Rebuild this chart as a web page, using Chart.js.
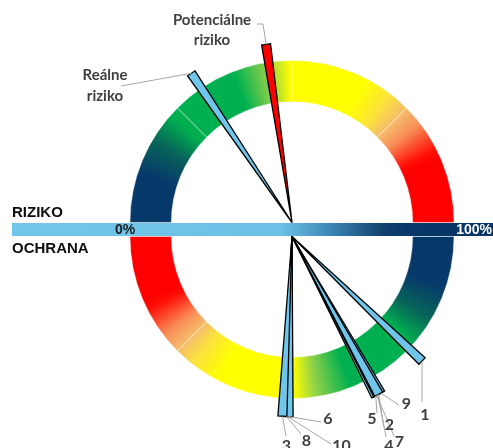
<!DOCTYPE html>
<html>
<head>
<meta charset="utf-8">
<script src="https://cdn.jsdelivr.net/npm/chart.js@4/dist/chart.umd.min.js"></script>
<style>
  html, body { margin: 0; padding: 0; background: #fff; }
  #wrap { position: relative; width: 493px; height: 448px; overflow: hidden; }
  #wrap canvas { position: absolute; }
</style>
</head>
<body>
<div id="wrap">
  <canvas id="ringTop" width="326" height="163" style="left:129px;top:60px;width:326px;height:163px"></canvas>
  <canvas id="ringBottom" width="326" height="163" style="left:129px;top:236px;width:326px;height:163px"></canvas>
  <canvas id="scaleBar" width="481" height="13" style="left:12px;top:223px;width:481px;height:13px"></canvas>
  <canvas id="needles" width="493" height="448" style="left:0;top:0;width:493px;height:448px"></canvas>
</div>
<script>
// ---- data -------------------------------------------------------------
// each half of the gauge ring is split into four equal bands
const bandLabels = ['0–25 %', '25–50 %', '50–75 %', '75–100 %'];
const bandShare = [25, 25, 25, 25];

// scale bar between the two halves
const scaleTicks = ['0%', '100%'];
const scaleMax = [100];
const sideTitles = ['RIZIKO', 'OCHRANA'];

// upper half: risk needles, percent of the 0–100 % scale
const riskNames = ['Reálne riziko', 'Potenciálne riziko'];
const riskValues = [31.1, 45.4];

// lower half: protection needles, percent of the 0–100 % scale
const protectionNames = ['1', '2', '3', '4', '5', '6', '7', '8', '9', '10'];
const protectionValues = [75.7, 66.0, 48.3, 65.8, 65.4, 49.4, 65.6, 49.0, 66.4, 49.2];

// ---- layout & style ---------------------------------------------------
const CENTER_X = 292;
const TOP_CY = 222.5;
const BOT_CY = 236.5;
const NEEDLE_LEN = 180;
const NEEDLE_TIP = 9;
const LABEL_GREY = '#404040';
const LEADER_GREY = '#a6a6a6';
const riskColors = ['#6fc5ea', '#ff0000'];
const protectionColor = '#6fc5ea';

// colour along a half ring, 0 = left end of the upper half
const ringStops = [
  [0.00, '#06386a'], [0.10, '#07396a'], [0.17, '#076459'], [0.23, '#00ad50'],
  [0.25, '#00b050'], [0.38, '#00b050'], [0.45, '#8fd14a'], [0.49, '#f0f70c'],
  [0.50, '#ffff00'], [0.65, '#ffff00'], [0.71, '#fbe23c'], [0.75, '#f5bd6a'],
  [0.79, '#f88f58'], [0.85, '#ff1008'], [0.87, '#ff0000'], [1.00, '#ff0000']
];

// label text lines, baselines and leader bends (page pixels)
const riskLabelLayout = [
  { x: 105, lines: ['Reálne', 'riziko'], base: [80, 101], leader: [[121, 86]] },
  { x: 212, lines: ['Potenciálne', 'riziko'], base: [25, 45], leader: [[263, 24], [257, 24]] }
];
const protectionLabelLayout = [
  { x: 425,   base: 419.5, leader: [[422, 402]] },   // 1
  { x: 389.5, base: 430,   leader: [[384, 427]] },   // 2
  { x: 286.5, base: 450.5, leader: [[286, 436]] },   // 3
  { x: 389,   base: 450.5, leader: [[386, 437]] },   // 4
  { x: 372,   base: 424,   leader: [[377, 413]] },   // 5
  { x: 328,   base: 424,   leader: [[321, 422]] },   // 6
  { x: 399.5, base: 446.5, leader: [[394, 436]] },   // 7
  { x: 306.5, base: 445.5, leader: [[301, 434]] },   // 8
  { x: 406.5, base: 408.5, leader: [[399, 405]] },   // 9
  { x: 341.5, base: 450.5, leader: [[331, 444]] }    // 10
];

// ---- gauge ring halves ------------------------------------------------
function ringGradient(chart, startAngle, upper) {
  const a = chart.chartArea;
  if (!a) return '#cccccc';
  const cy = upper ? a.bottom - 0.5 : a.top + 0.5;
  const g = chart.ctx.createConicGradient(startAngle, (a.left + a.right) / 2, cy);
  ringStops.forEach(([f, c]) => g.addColorStop(f / 2, c));
  return g;
}

function makeRing(id, upper) {
  return new Chart(document.getElementById(id), {
    type: 'doughnut',
    data: {
      labels: upper ? bandLabels : bandLabels.slice().reverse(),
      datasets: [{
        data: bandShare,
        backgroundColor: (c) => ringGradient(c.chart, upper ? -Math.PI : 0, upper),
        borderColor: 'rgba(255,255,255,0.4)',
        borderWidth: 1
      }]
    },
    options: {
      responsive: false,
      animation: false,
      events: [],
      rotation: upper ? -90 : 90,
      circumference: 180,
      cutout: '74.5%',
      layout: { padding: 0 },
      plugins: { legend: { display: false }, tooltip: { enabled: false } }
    }
  });
}
makeRing('ringTop', true);
makeRing('ringBottom', false);

// ---- scale bar --------------------------------------------------------
const scaleBarText = {
  id: 'scaleBarText',
  afterDatasetsDraw(chart) {
    const { ctx, chartArea: a } = chart;
    const cy = (a.top + a.bottom) / 2 + 0.5;
    ctx.save();
    ctx.font = 'bold 14px "Liberation Sans", Arial, sans-serif';
    ctx.textBaseline = 'middle';
    ctx.textAlign = 'center';
    ctx.fillStyle = '#1a1a1a';
    ctx.fillText(scaleTicks[0], 125 - 12, cy);
    ctx.textAlign = 'right';
    ctx.fillStyle = '#ffffff';
    ctx.fillText(scaleTicks[1], a.right - 1, cy);
    ctx.restore();
  }
};

new Chart(document.getElementById('scaleBar'), {
  type: 'bar',
  data: {
    labels: ['škála'],
    datasets: [{
      data: scaleMax,
      barPercentage: 1,
      categoryPercentage: 1,
      borderWidth: 0,
      backgroundColor: (c) => {
        const a = c.chart.chartArea;
        if (!a) return '#6fc5ea';
        const g = c.chart.ctx.createLinearGradient(a.left, 0, a.right, 0);
        g.addColorStop(0.00, '#72c6ea');
        g.addColorStop(0.56, '#6cc1e6');
        g.addColorStop(0.66, '#3d88b6');
        g.addColorStop(0.77, '#12426e');
        g.addColorStop(0.82, '#08386a');
        g.addColorStop(1.00, '#063565');
        return g;
      }
    }]
  },
  options: {
    indexAxis: 'y',
    responsive: false,
    animation: false,
    events: [],
    layout: { padding: 0 },
    scales: {
      x: { min: 0, max: 100, display: false },
      y: { display: false }
    },
    plugins: { legend: { display: false }, tooltip: { enabled: false } }
  },
  plugins: [scaleBarText]
});

// ---- needles ----------------------------------------------------------
// wedge from the gauge centre to a flat tip; dir -1 = upper half, +1 = lower half
function needle(value, cy, dir) {
  const phi = Math.PI * (1 - value / 100);
  const ux = Math.cos(phi), uy = dir * Math.sin(phi);
  const tx = CENTER_X + NEEDLE_LEN * ux, ty = cy + NEEDLE_LEN * uy;
  const px = -uy, py = ux, h = NEEDLE_TIP / 2;
  return {
    pts: [
      { x: CENTER_X, y: cy },
      { x: tx + px * h, y: ty + py * h },
      { x: tx - px * h, y: ty - py * h },
      { x: CENTER_X, y: cy }
    ],
    tip: { x: tx, y: ty }
  };
}

const riskNeedles = riskValues.map(v => needle(v, TOP_CY, -1));
const protectionNeedles = protectionValues.map(v => needle(v, BOT_CY, 1));

const needleStyle = {
  borderColor: '#000000',
  borderWidth: 1.3,
  borderJoinStyle: 'miter',
  fill: 'shape',
  pointRadius: 0,
  pointHoverRadius: 0,
  tension: 0
};

function drawLeader(ctx, xs, ys, tip, bends) {
  ctx.beginPath();
  ctx.moveTo(xs.getPixelForValue(tip.x), ys.getPixelForValue(tip.y));
  bends.forEach(([bx, by]) => ctx.lineTo(bx, by));
  ctx.stroke();
}

const needleLabels = {
  id: 'needleLabels',
  afterDatasetsDraw(chart) {
    const { ctx, scales: { x, y } } = chart;
    ctx.save();
    ctx.strokeStyle = LEADER_GREY;
    ctx.lineWidth = 1;
    riskNeedles.forEach((n, i) => drawLeader(ctx, x, y, n.tip, riskLabelLayout[i].leader));
    protectionNeedles.forEach((n, i) => drawLeader(ctx, x, y, n.tip, protectionLabelLayout[i].leader));

    ctx.fillStyle = LABEL_GREY;
    ctx.textAlign = 'center';
    ctx.textBaseline = 'alphabetic';
    ctx.font = 'bold 15px Lato, "Open Sans", sans-serif';
    riskLabelLayout.forEach(l => l.lines.forEach((t, k) => ctx.fillText(t, l.x, l.base[k])));
    ctx.font = 'bold 16px Lato, "Open Sans", sans-serif';
    protectionNames.forEach((t, i) => {
      const l = protectionLabelLayout[i];
      ctx.fillText(t, l.x, l.base);
    });

    ctx.fillStyle = '#0d0d0d';
    ctx.textAlign = 'left';
    ctx.font = 'bold 15px "Liberation Sans", Arial, sans-serif';
    ctx.fillText(sideTitles[0], 12, 217);
    ctx.fillText(sideTitles[1], 12, 253);
    ctx.restore();
  }
};

new Chart(document.getElementById('needles'), {
  type: 'line',
  data: {
    datasets: [
      ...protectionNeedles.map((n, i) => ({
        label: protectionNames[i], data: n.pts, backgroundColor: protectionColor, ...needleStyle
      })),
      ...riskNeedles.map((n, i) => ({
        label: riskNames[i], data: n.pts, backgroundColor: riskColors[i], ...needleStyle
      }))
    ]
  },
  options: {
    responsive: false,
    animation: false,
    events: [],
    layout: { padding: 0 },
    scales: {
      x: { type: 'linear', min: 0, max: 493, display: false },
      y: { type: 'linear', min: 0, max: 448, reverse: true, display: false }
    },
    plugins: { legend: { display: false }, tooltip: { enabled: false } }
  },
  plugins: [needleLabels]
});
</script>
</body>
</html>
